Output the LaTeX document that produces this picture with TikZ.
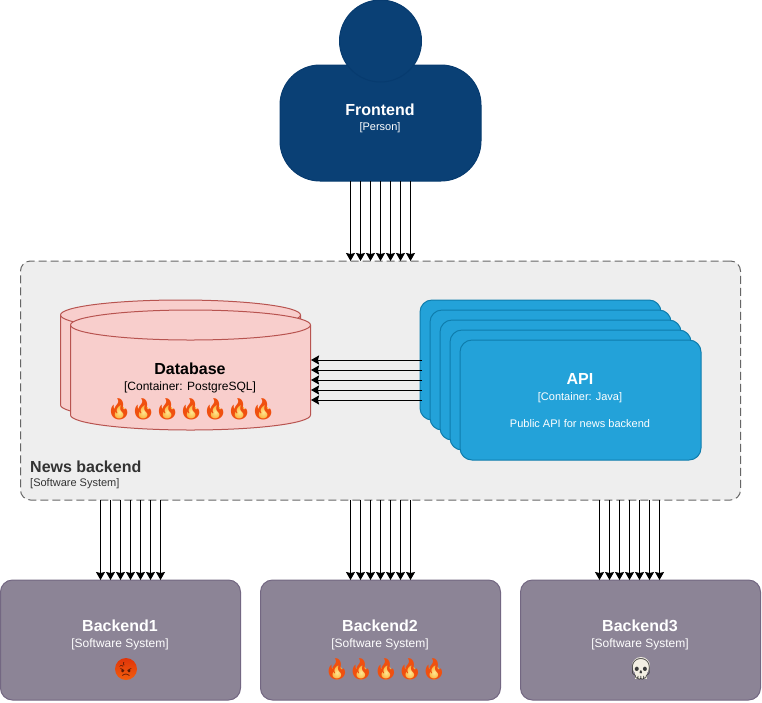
\documentclass[tikz,border=0pt]{standalone}
\usepackage{fontspec}
\setmainfont{Liberation Sans}
\newfontfamily\emojifont{Noto Emoji}
\usetikzlibrary{arrows.meta}
\definecolor{persfill}{HTML}{0A4075}
\definecolor{persline}{HTML}{073B6F}
\definecolor{sysfill}{HTML}{8C8496}
\definecolor{sysline}{HTML}{736782}
\definecolor{apifill}{HTML}{23A2D9}
\definecolor{apiline}{HTML}{0E7DAD}
\definecolor{dbfill}{HTML}{F8CECC}
\definecolor{dbline}{HTML}{B85450}
\definecolor{bndfill}{HTML}{EEEEEE}
\definecolor{bndline}{HTML}{666666}
\definecolor{bndtext}{HTML}{333333}
\definecolor{firecol}{HTML}{F0500F}
\definecolor{fireyel}{HTML}{FFD84A}
\definecolor{angrycol}{HTML}{F0550F}
\definecolor{angrytop}{HTML}{E0350A}
\definecolor{angrydark}{HTML}{5A1A05}
\definecolor{skullcol}{HTML}{3A3A3A}
\definecolor{skullfill}{HTML}{F2EEE2}
\tikzset{
  x=1pt,y=-1pt,
  box/.style={rectangle,inner sep=0pt,outer sep=0pt,line width=1pt,align=center},
  sysbox/.style={box,draw=sysline,fill=sysfill,rounded corners=12pt,minimum width=240pt,minimum height=120pt},
  apibox/.style={box,draw=apiline,fill=apifill,rounded corners=12pt,minimum width=241pt,minimum height=120pt},
  dbshape/.style={draw=dbline,fill=dbfill,line width=1pt},
  title/.style={font=\bfseries\fontsize{16}{18}\selectfont,inner sep=0pt},
  sub/.style={font=\fontsize{12}{14}\selectfont,inner sep=0pt},
  small/.style={font=\fontsize{11}{13}\selectfont,inner sep=0pt},
  flow/.style={line width=1pt,draw=black,-{Stealth[length=8pt,width=9pt,inset=1pt]}},
  emoji/.style={font=\emojifont\fontsize{21}{23}\selectfont,inner sep=0pt},
  flamecore/.style={inner color=white!40!fireyel,outer color=fireyel!70!firecol},
}
\newcommand{\flameat}[3]{%
  \shade[flamecore] (#2,#3+3) ellipse[x radius=6,y radius=7];
  \node[emoji,text=firecol] (#1) at (#2,#3) {^^^^^^01f525};
}
\begin{document}
\begin{tikzpicture}
\path[use as bounding box,fill=white] (0,0) rectangle (762,702);
% boundary
\node[box,draw=bndline,fill=bndfill,dashed,dash pattern=on 8pt off 4pt,rounded corners=10pt,minimum width=720pt,minimum height=239pt] (sys) at (380.5,380.5) {};
\node[title,text=bndtext,anchor=west] (sysname) at (30,467) {News backend};
\node[small,text=bndtext,anchor=west] (systype) at (30,484) {[Software System]};
% person
\node[box,draw=persline,fill=persfill,rounded corners=40pt,minimum width=201pt,minimum height=116pt] (fe) at (380.5,123) {};
\node[circle,draw=persline,fill=persfill,line width=1pt,inner sep=0pt,outer sep=0pt,minimum size=82pt] (head) at (380.5,41) {};
\node[title,text=white] (fename) at (380,109.5) {Frontend};
\node[font=\fontsize{11}{13}\selectfont,inner sep=0pt,text=white] (fetype) at (380,128) {[Person]};
% database
\node[box,minimum width=241pt,minimum height=120pt] (db) at (190.5,370) {};
\path[dbshape] (60.5,315) arc[x radius=120,y radius=15,start angle=180,end angle=360] -- (300.5,405) arc[x radius=120,y radius=15,start angle=0,end angle=180] -- cycle;
\path[dbshape,fill=none] (60.5,315) arc[x radius=120,y radius=15,start angle=180,end angle=0];
\path[dbshape] (70.5,325) arc[x radius=120,y radius=15,start angle=180,end angle=360] -- (310.5,415) arc[x radius=120,y radius=15,start angle=0,end angle=180] -- cycle;
\path[dbshape,fill=none] (70.5,325) arc[x radius=120,y radius=15,start angle=180,end angle=0];
\node[title,text=black] (dbname) at (190,369) {Database};
\node[sub,text=black] (dbtype) at (190,387.5) {[Container: PostgreSQL]};
\foreach \n/\x in {1/119.3,2/143.3,3/167.3,4/191.3,5/215.3,6/239.3,7/263.3}
  {\flameat{dbfire\n}{\x}{409}}
% api stack
\node[apibox] (api1) at (540.5,360) {};
\node[apibox] (api2) at (550.5,370) {};
\node[apibox] (api3) at (560.5,380) {};
\node[apibox] (api4) at (570.5,390) {};
\node[apibox] (api5) at (580.5,400) {};
\node[title,text=white] (apiname) at (580,379) {API};
\node[small,text=white] (apitype) at (580,397.5) {[Container: Java]};
\node[small,text=white] (apidesc) at (580,424) {Public API for news backend};
% backends
\node[sysbox] (b1) at (120.5,640) {};
\node[sysbox] (b2) at (380.5,640) {};
\node[sysbox] (b3) at (640.5,640) {};
\node[title,text=white] (b1name) at (120,626) {Backend1};
\node[sub,text=white] (b1type) at (120,644.5) {[Software System]};
\shade[top color=angrytop,bottom color=angrycol!80!orange] (126,669) circle[radius=11];
\begin{scope}
  \clip (126,669) circle[radius=7.8];
  \node[emoji,text=angrydark] (b1face) at (126,669) {^^^^^^01f621};
\end{scope}
\node[title,text=white] (b2name) at (380,626) {Backend2};
\node[sub,text=white] (b2type) at (380,644.5) {[Software System]};
\foreach \n/\x in {1/337,2/361,3/386,4/410,5/434}
  {\flameat{b2fire\n}{\x}{669.5}}
\node[title,text=white] (b3name) at (640,626) {Backend3};
\node[sub,text=white] (b3type) at (640,644.5) {[Software System]};
\fill[skullfill] (641,666) ellipse[x radius=9,y radius=9];
\fill[skullfill] (635,670) rectangle (647,679);
\node[emoji,text=skullcol] (b3face) at (641,669) {^^^^^^01f480};
% connectors
\foreach \d in {-30,-20,-10,0,10,20,30} {
  \draw[flow] ([xshift=\d pt]fe.south) -- ([xshift=\d pt]fe.south |- sys.north);
  \draw[flow] ([xshift=\d pt + 10pt]b1.north |- sys.south) -- ([xshift=\d pt + 10pt]b1.north);
  \draw[flow] ([xshift=\d pt]b2.north |- sys.south) -- ([xshift=\d pt]b2.north);
  \draw[flow] ([xshift=\d pt - 11pt]b3.north |- sys.south) -- ([xshift=\d pt - 11pt]b3.north);
}
\foreach \d in {0,10,20,30,40}
  \draw[flow] ([xshift=2pt,yshift=-\d pt]api1.west) -- ([yshift=-\d pt]api1.west -| db.east);
\end{tikzpicture}
\end{document}
